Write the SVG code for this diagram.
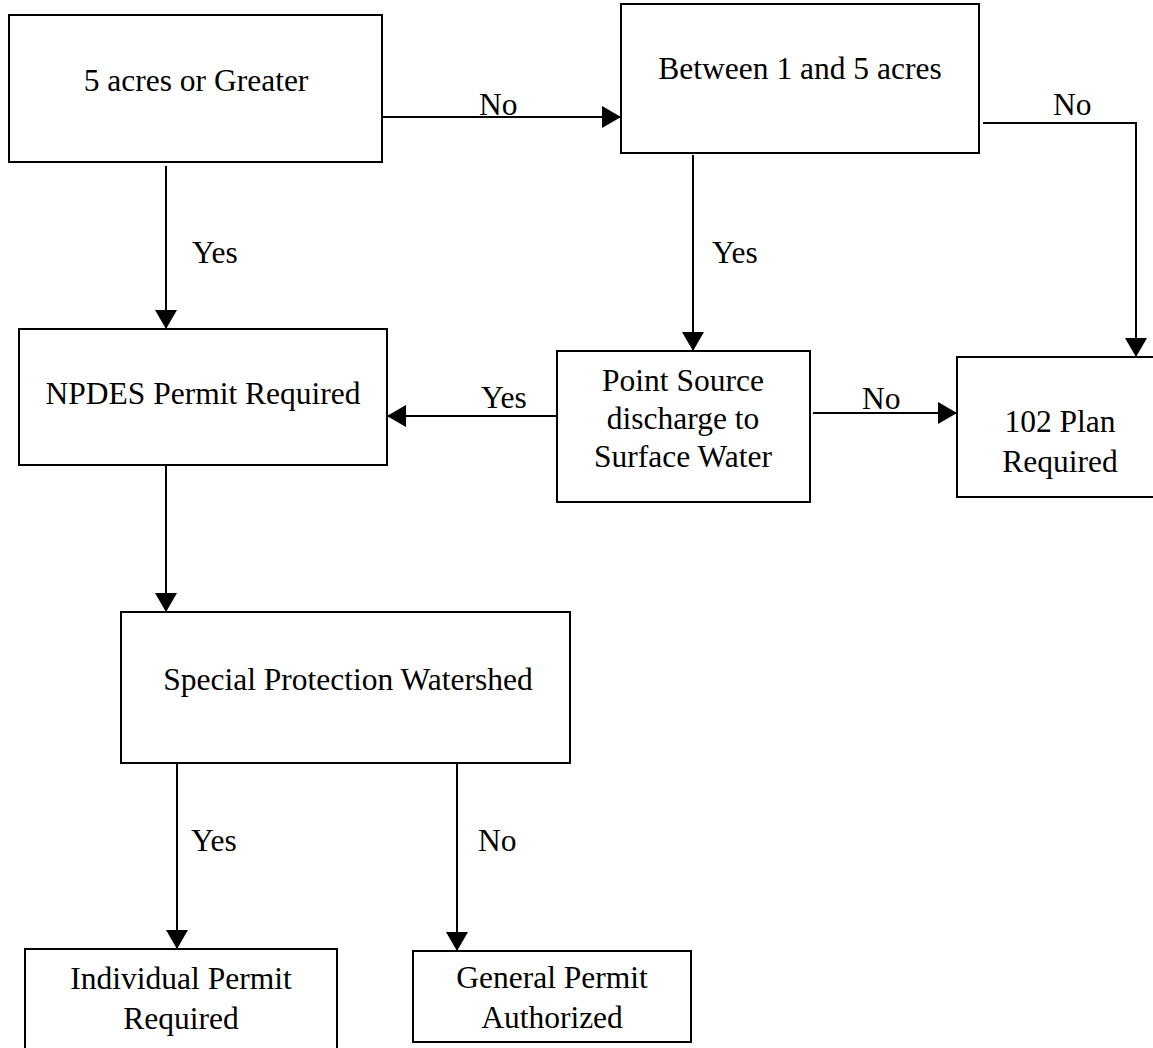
<svg xmlns="http://www.w3.org/2000/svg" width="1153" height="1048" viewBox="0 0 1153 1048">
<style>
.box{fill:#fff;stroke:#000;stroke-width:2}
.t{font-family:"Liberation Serif","Times New Roman",serif;font-size:31.5px;fill:#000;text-anchor:middle}
.l{font-family:"Liberation Serif","Times New Roman",serif;font-size:31.5px;fill:#000}
.c{fill:none;stroke:#000;stroke-width:2}
</style>
<defs>
<marker id="ah" markerUnits="userSpaceOnUse" markerWidth="20" markerHeight="22" refX="19" refY="11" orient="auto">
<path d="M0,0 L19,11 L0,22 z" fill="#000"/>
</marker>
</defs>
<rect width="1153" height="1048" fill="#fff"/>
<g id="connectors">
<line class="c" x1="382" y1="117" x2="621" y2="117" marker-end="url(#ah)"/>
<polyline class="c" points="983,123 1136,123 1136,357" marker-end="url(#ah)"/>
<line class="c" x1="166" y1="166" x2="166" y2="329" marker-end="url(#ah)"/>
<line class="c" x1="693" y1="155" x2="693" y2="351" marker-end="url(#ah)"/>
<line class="c" x1="557" y1="416" x2="387" y2="416" marker-end="url(#ah)"/>
<line class="c" x1="813" y1="413" x2="957" y2="413" marker-end="url(#ah)"/>
<line class="c" x1="166" y1="466" x2="166" y2="612" marker-end="url(#ah)"/>
<line class="c" x1="177" y1="764" x2="177" y2="949" marker-end="url(#ah)"/>
<line class="c" x1="457" y1="764" x2="457" y2="951" marker-end="url(#ah)"/>
<text class="l" x="479" y="115">No</text>
<text class="l" x="1053" y="115">No</text>
<text class="l" x="192" y="263">Yes</text>
<text class="l" x="712" y="263">Yes</text>
<text class="l" x="481" y="408">Yes</text>
<text class="l" x="862" y="409">No</text>
<text class="l" x="191" y="851">Yes</text>
<text class="l" x="478" y="851">No</text>
</g>
<g id="n1"><rect class="box" x="9" y="15" width="373" height="147"/><text class="t" x="196" y="91">5 acres or Greater</text></g>
<g id="n2"><rect class="box" x="621" y="4" width="358" height="149"/><text class="t" x="800" y="79">Between 1 and 5 acres</text></g>
<g id="n3"><rect class="box" x="19" y="329" width="368" height="136"/><text class="t" x="203" y="404">NPDES Permit Required</text></g>
<g id="n4"><rect class="box" x="557" y="351" width="253" height="151"/><text class="t" x="683" y="391">Point Source</text><text class="t" x="683" y="429">discharge to</text><text class="t" x="683" y="467">Surface Water</text></g>
<g id="n5"><rect class="box" x="957" y="357" width="206" height="140"/><text class="t" x="1060" y="432">102 Plan</text><text class="t" x="1060" y="472">Required</text></g>
<g id="n6"><rect class="box" x="121" y="612" width="449" height="151"/><text class="t" x="348" y="690">Special Protection Watershed</text></g>
<g id="n7"><rect class="box" x="25" y="949" width="312" height="110"/><text class="t" x="181" y="989">Individual Permit</text><text class="t" x="181" y="1029">Required</text></g>
<g id="n8"><rect class="box" x="413" y="951" width="278" height="91"/><text class="t" x="552" y="988">General Permit</text><text class="t" x="552" y="1028">Authorized</text></g>
</svg>
